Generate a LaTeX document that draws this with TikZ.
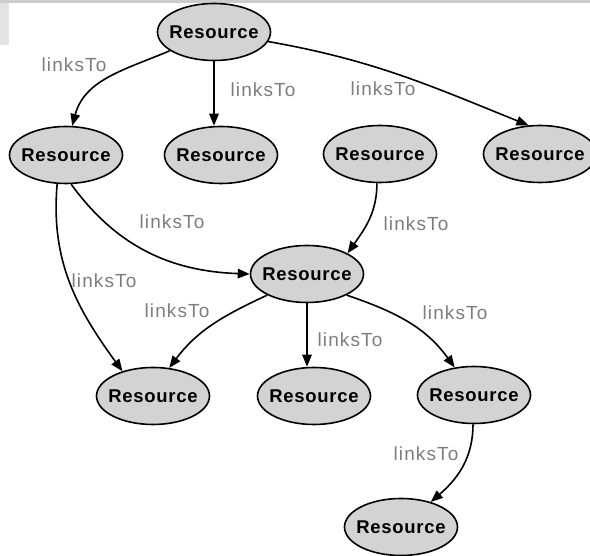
\documentclass[tikz,border=0pt]{standalone}
\usepackage{fontspec}
\setmainfont{Liberation Sans}
\usetikzlibrary{arrows.meta,shapes.geometric}
\definecolor{resgray}{RGB}{211,211,211}
\definecolor{lblgray}{RGB}{125,125,125}

\begin{document}
\begin{tikzpicture}[x=1pt,y=1pt,
  res/.style={ellipse,draw=black,line width=1.6pt,fill=resgray,minimum width=113pt,minimum height=57pt,inner xsep=-10pt,inner ysep=0pt,font=\fontsize{18.5}{20}\selectfont\bfseries\addfontfeature{LetterSpace=4}},
  lbl/.style={text=lblgray,inner sep=0pt,font=\fontsize{19}{20}\selectfont\addfontfeature{LetterSpace=6}},
  link/.style={line width=1.6pt,-{Triangle[length=12pt,width=9.5pt]}}]
\useasboundingbox (0,0) rectangle (590,556);
   % Draw strips
\fill[gray!40] (0,553) rectangle (590,556);
\fill[gray!22] (0,511) rectangle (9,553);

\node[res] (r0) at (214,524) {Resource};
\node[res] (r1) at (66,401) {Resource};
\node[res] (r2) at (221,401) {Resource};
\node[res] (r3) at (380,402) {Resource};
\node[res] (r4) at (540,402) {Resource};
\node[res] (r5) at (307,282) {Resource};
\node[res] (r6) at (153,160) {Resource};
\node[res] (r7) at (314,160) {Resource};
\node[res] (r8) at (474,161) {Resource};
\node[res] (r9) at (401,29) {Resource};

\node[lbl] (l1) at (74,491) {linksTo};
\node[lbl] (l2) at (263,466) {linksTo};
\node[lbl] (l3) at (383,467) {linksTo};
\node[lbl] (l4) at (172,334) {linksTo};
\node[lbl] (l5) at (104,275) {linksTo};
\node[lbl] (l6) at (177,245) {linksTo};
\node[lbl] (l7) at (416,332) {linksTo};
\node[lbl] (l8) at (350,216) {linksTo};
\node[lbl] (l9) at (455,243) {linksTo};
\node[lbl] (l10) at (426,102) {linksTo};

\draw[link] (r0.203) to[out=203,in=75] (r1.78);
\draw[link] (r0.south) -- (r0.south |- r2.north);
\draw[link] (r0.-10) to[out=-10,in=158] (r4.112);
\draw[link] (r1.-80) to[out=-54,in=178] (r5.west);
\draw[link] (r1.-107) to[out=-95,in=126] (r6.141);
\draw[link] (r3.-96) to[out=-90,in=55] (r5.27);
\draw[link] (r5.208) to[out=205,in=53] (r6.60);
\draw[link] (r5.south) -- (r5.south |- r7.north);
\draw[link] (r5.-28) to[out=-19,in=126] (r8.125);
\draw[link] (r8.-92) to[out=-90,in=41] (r9.40);
\end{tikzpicture}
\end{document}
